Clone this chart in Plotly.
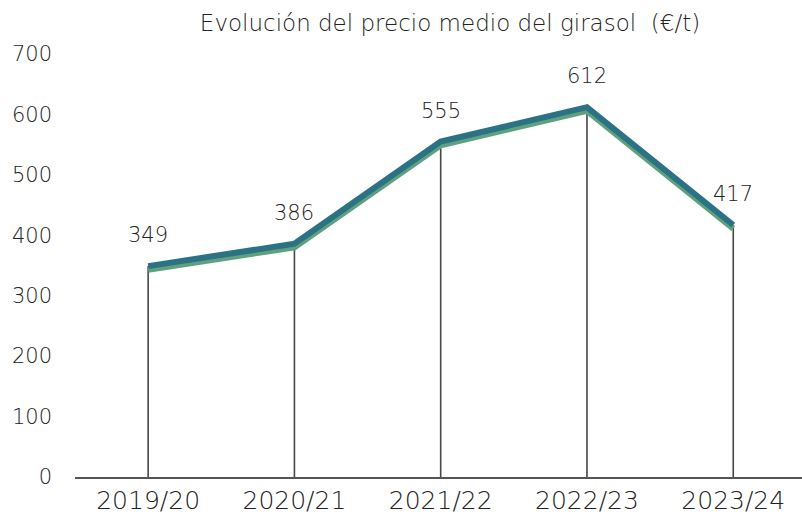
import plotly.graph_objects as go

campanas = ["2019/20", "2020/21", "2021/22", "2022/23", "2023/24"]
precios = [349, 386, 555, 612, 417]
y_ticks = [0, 100, 200, 300, 400, 500, 600, 700]

FONT = "DejaVu Sans"
TXT = "#222222"

fig = go.Figure()

# drop lines from each point to the axis
fig.add_trace(go.Scatter(
    x=campanas, y=precios, mode="markers",
    marker=dict(size=0.1, color="rgba(0,0,0,0)"),
    error_y=dict(type="data", symmetric=False, array=[0] * len(precios),
                 arrayminus=precios, color="#474747", thickness=1.6, width=0),
    hoverinfo="skip", showlegend=False,
))

# shadow line (drawn on a slightly shifted axis)
fig.add_trace(go.Scatter(
    x=campanas, y=precios, mode="lines", yaxis="y2",
    line=dict(color="#5FA07E", width=6), showlegend=False, hoverinfo="skip",
))

# main line
fig.add_trace(go.Scatter(
    x=campanas, y=precios, mode="lines", yaxis="y3",
    line=dict(color="#2C7285", width=6), showlegend=False,
))

for c, v in zip(campanas, precios):
    fig.add_annotation(x=c, y=v, text=str(v), showarrow=False, yshift=31,
                       font=dict(family=FONT, size=21, color=TXT, weight=300))

fig.update_layout(
    width=802, height=522,
    margin=dict(l=75, r=0, t=54, b=45, autoexpand=False),
    paper_bgcolor="white", plot_bgcolor="white",
    title=dict(text="Evolución del precio medio del girasol  (€/t)",
               x=450 / 802, xanchor="center", y=1 - 23 / 522, yanchor="middle",
               xref="container", yref="container",
               font=dict(family=FONT, size=23, color=TXT, weight=300)),
    xaxis=dict(type="category", range=[-0.5, 4.47], showgrid=False,
               showline=True, linecolor="#555555", linewidth=2,
               ticks="", automargin=False,
               tickfont=dict(family=FONT, size=25, color=TXT, weight=300),
               zeroline=False),
    yaxis=dict(range=[0, 700], tickvals=y_ticks, showgrid=False,
               showline=False, zeroline=False, ticks="", automargin=False,
               ticklabelstandoff=22,
               tickfont=dict(family=FONT, size=21, color=TXT, weight=300)),
    yaxis2=dict(range=[6, 706], overlaying="y", visible=False),
    yaxis3=dict(range=[0, 700], overlaying="y", visible=False),
)

fig.write_html("out.html", config={"displayModeBar": False},
               post_script="document.body.style.margin='0';"
                           "document.body.style.padding='0';")
